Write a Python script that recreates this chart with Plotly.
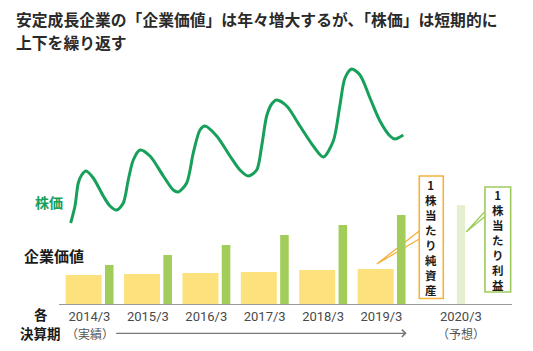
import plotly.graph_objects as go

# ---- data ----
periods = ["2014/3", "2015/3", "2016/3", "2017/3", "2018/3", "2019/3"]
forecast_period = "2020/3"
period_pos = [0, 1, 2, 3, 4, 5]
forecast_pos = 6.36

bps = [29, 30, 31, 32, 34, 35]          # 1株当たり純資産 (yellow)
eps = [39, 49, 59, 69, 79, 89]          # 1株当たり利益 (green)
eps_forecast = [99]                     # 2020/3 forecast (pale green)

price_t = [-0.322, -0.248, -0.192, -0.134, -0.060, 0.065, 0.236, 0.351, 0.466, 0.579,
           0.664, 0.750, 0.865, 1.036, 1.264, 1.435, 1.521, 1.664, 1.777, 1.892,
           1.978, 2.178, 2.406, 2.577, 2.719, 2.863, 2.949, 3.034, 3.120, 3.205,
           3.377, 3.604, 3.832, 4.003, 4.175, 4.289, 4.375, 4.490, 4.632, 4.803,
           4.974, 5.146, 5.231, 5.373]
price_v = [81, 98, 121, 129, 133, 126, 108, 98, 94, 101,
           124, 144, 154, 148, 128, 114, 112, 121, 151, 174,
           178, 168, 148, 134, 128, 134, 158, 188, 200, 204,
           198, 178, 158, 147, 163, 199, 226, 235, 229, 206,
           183, 168, 165, 169]

title1 = "安定成長企業の「企業価値」は年々増大するが、「株価」は短期的に"
title2 = "上下を繰り返す"
label_price = "株価"
label_value = "企業価値"
label_period1 = "各"
label_period2 = "決算期"
label_bps = "1株当たり純資産"
label_eps = "1株当たり利益"

# ---- styles ----
YELLOW = "#fde17c"
GREEN_BAR = "#a3cd5a"
PALE_GREEN = "#e4f0d0"
LINE_GREEN = "#17a05a"
ORANGE = "#f3b23c"
BOX_GREEN = "#9ccb5c"
FONT = "Noto Sans CJK JP"

fig = go.Figure()
fig.add_trace(go.Bar(x=period_pos, y=bps, width=0.616, offset=-0.408,
                     marker=dict(color=YELLOW, line=dict(width=0)), showlegend=False))
fig.add_trace(go.Bar(x=period_pos, y=eps, width=0.147, offset=0.265,
                     marker=dict(color=GREEN_BAR, line=dict(width=0)), showlegend=False))
fig.add_trace(go.Bar(x=[forecast_pos], y=eps_forecast, width=0.143, offset=-0.07,
                     marker=dict(color=PALE_GREEN, line=dict(width=0)), showlegend=False))
fig.add_trace(go.Scatter(x=price_t, y=price_v, mode="lines",
                         line=dict(color=LINE_GREEN, width=3, shape="spline", smoothing=0.8),
                         showlegend=False, cliponaxis=False))

annotations = []
shapes = []

def ptext(text, x, y, size, color, bold=True, xanchor="center"):
    annotations.append(dict(text=text, xref="paper", yref="paper", x=x, y=y,
                            xanchor=xanchor, yanchor="middle", showarrow=False, borderpad=0,
                            font=dict(family=FONT, size=size, color=color,
                                      weight="bold" if bold else "normal")))

# title
ptext(title1, -44/453, 1 + 30/254, 15.8, "#2a2a2a", xanchor="left")
ptext(title2, -44/453, 1 + 8/254, 15.8, "#2a2a2a", xanchor="left")

# side labels
ptext(label_price, -0.0221, 0.4028, 14, LINE_GREEN)
ptext(label_value, -0.0795, 0.1929, 15, "#1a1a1a", xanchor="left")
ptext(label_period1, -0.0405, -0.0413, 13.5, "#1a1a1a")
ptext(label_period2, -0.0405, -0.1142, 13.5, "#1a1a1a")
ptext("（実績）", 0.0695, -0.1142, 12, "#555555", bold=False)
ptext("（予想）", 0.887, -0.1154, 12, "#555555", bold=False)

# arrow along the actual periods
annotations.append(dict(x=0.7675, y=-0.1154, xref="paper", yref="paper",
                        ax=-292, ay=0, axref="pixel", ayref="pixel",
                        text="", showarrow=True, arrowhead=4, arrowsize=1.1, arrowwidth=1.3,
                        arrowcolor="#777777"))

# callout boxes with vertical text
def callout(x0, x1, y0, y1, color, tip, e1, e2, text):
    shapes.append(dict(type="path", xref="x", yref="y",
                       path=f"M {e1[0]},{e1[1]} L {tip[0]},{tip[1]} L {e2[0]},{e2[1]}",
                       line=dict(color=color, width=1.3), layer="below"))
    shapes.append(dict(type="rect", xref="x", yref="y", x0=x0, x1=x1, y0=y0, y1=y1,
                       line=dict(color=color, width=1.6), fillcolor="white", layer="above"))
    annotations.append(dict(text="<br>".join(list(text)), x=(x0 + x1) / 2, y=(y0 + y1) / 2,
                            xanchor="center", yanchor="middle", showarrow=False, borderpad=0,
                            font=dict(family=FONT, size=11.5, color="#1a1a1a", weight="bold")))

callout(5.647, 6.058, 5.5, 128, ORANGE, (4.92, 40), (5.647, 73), (5.647, 65), label_bps)
callout(6.772, 7.212, 12, 117, BOX_GREEN, (6.45, 72), (6.772, 92.5), (6.772, 87.5), label_eps)

fig.update_layout(
    width=533, height=351,
    margin=dict(l=59, r=21, t=50, b=47),
    paper_bgcolor="white", plot_bgcolor="white",
    barmode="overlay",
    xaxis=dict(range=[-0.522, 7.235], showgrid=False, zeroline=False,
               showline=True, linecolor="#9a9a9a", linewidth=1,
               tickvals=period_pos + [forecast_pos], ticktext=periods + [forecast_period],
               ticks="", tickfont=dict(family="Roboto", size=13, color="#4a4a4a")),
    yaxis=dict(range=[0, 254], visible=False, showgrid=False, zeroline=False),
    annotations=annotations, shapes=shapes,
    font=dict(family=FONT),
)

fig.write_html("out.html")
